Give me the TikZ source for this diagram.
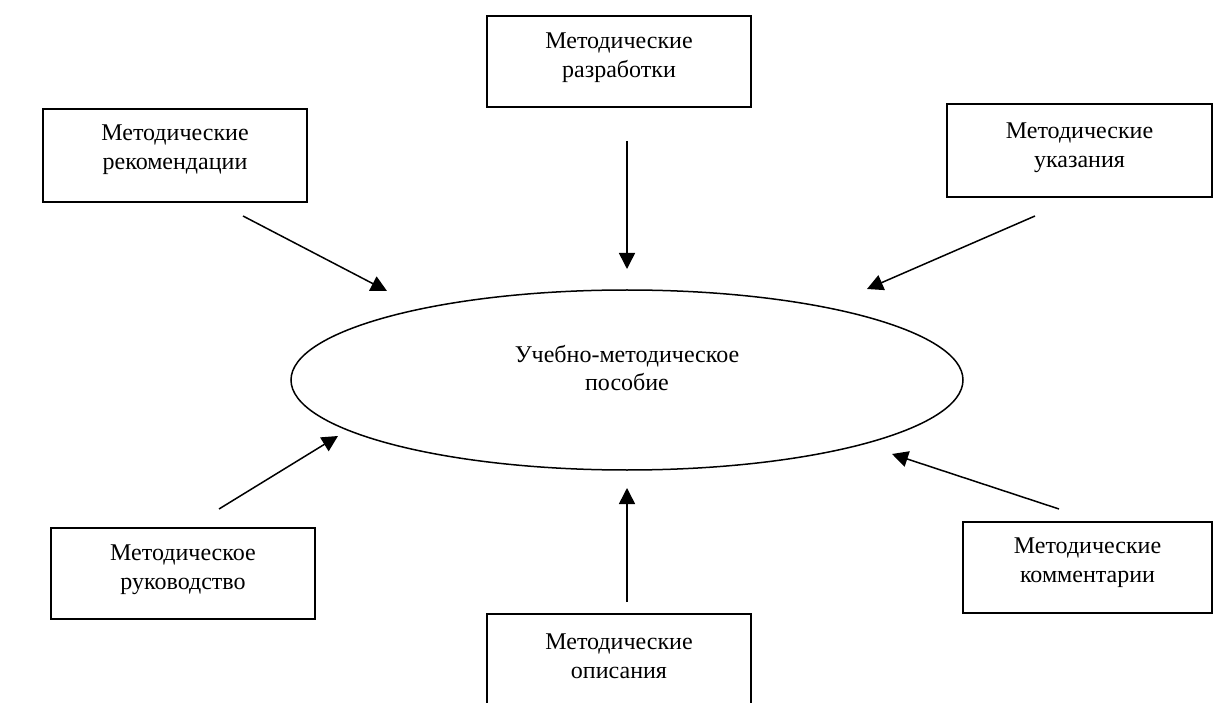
\documentclass[tikz,border=0pt]{standalone}
\usepackage{fontspec}
\setmainfont{Liberation Serif}
\usetikzlibrary{arrows.meta,calc,shapes.geometric}
\tikzset{
  x=1pt,y=1pt,
  boxnode/.style={draw,line width=1.6pt,inner sep=0pt,minimum width=264pt,minimum height=91pt},
  txt/.style={align=center,font=\fontsize{24}{28.5}\selectfont,inner sep=0pt},
  conn/.style={line width=1.5pt,-{Triangle[length=16pt,width=16pt]}}
}
\begin{document}
\begin{tikzpicture}
\useasboundingbox (0,0) rectangle (1216,-703);
\fill[white] (0,0) rectangle (1216,-703);
% boxes
\node[boxnode] (raz) at (619,-61.5) {};
\node[boxnode,minimum height=93pt] (rek) at (175,-155.5) {};
\node[boxnode,minimum width=265pt,minimum height=93pt] (uk) at (1079.5,-150.5) {};
\node[boxnode] (ruk) at (183,-573.5) {};
\node[boxnode,minimum width=249pt] (kom) at (1087.5,-567.5) {};
\node[boxnode] (op) at (619,-659.5) {};
% ellipse
\node[draw,line width=1.5pt,ellipse,minimum width=672pt,minimum height=180pt,inner sep=0pt] (main) at (627,-380) {};
% texts
\node[txt] (raz-t) at ($(raz)+(0,4)$) {Методические\\разработки};
\node[txt] (rek-t) at ($(rek)+(0,6)$) {Методические\\рекомендации};
\node[txt] (uk-t) at ($(uk)+(0,3)$) {Методические\\указания};
\node[txt] (ruk-t) at ($(ruk)+(0,4)$) {Методическое\\руководство};
\node[txt] (kom-t) at ($(kom)+(0,5)$) {Методические\\комментарии};
\node[txt] (op-t) at ($(op)+(0,3)$) {Методические\\описания};
\node[txt] (main-t) at ($(main)+(0,12)$) {Учебно-методическое\\пособие};
% connector ends
\coordinate (a1) at (243,-216); \coordinate (b1) at (387,-291);
\coordinate (a2) at (627,-141); \coordinate (b2) at (627,-269);
\coordinate (a3) at (1035,-216); \coordinate (b3) at (867,-289);
\coordinate (a4) at (219,-509); \coordinate (b4) at (338,-436);
\coordinate (a5) at (627,-602); \coordinate (b5) at (627,-488);
\coordinate (a6) at (1059,-509); \coordinate (b6) at (892,-454);
\draw[conn] (a1) -- (b1);
\draw[conn] (a2) -- (b2);
\draw[conn] (a3) -- (b3);
\draw[conn] (a4) -- (b4);
\draw[conn] (a5) -- (b5);
\draw[conn] (a6) -- (b6);
\end{tikzpicture}
\end{document}
